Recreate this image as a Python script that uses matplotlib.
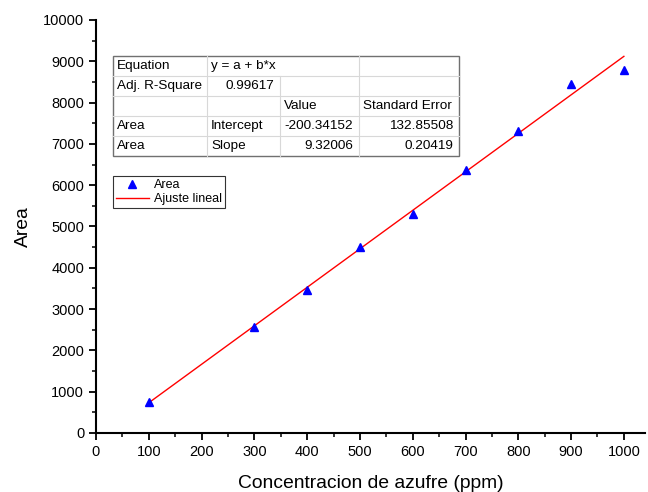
import matplotlib
matplotlib.use('Agg')
import matplotlib.pyplot as plt
from matplotlib.ticker import MultipleLocator
import numpy as np

plt.rcParams['font.family'] = ['Liberation Sans', 'DejaVu Sans']

# data
conc = [100, 300, 400, 500, 600, 700, 800, 900, 1000]
area = [750, 2566, 3462, 4503, 5300, 6368, 7312, 8460, 8790]

# fit parameters as printed in the table
intercept = -200.34152
slope = 9.32006
fit_x = np.array([100, 1000])
fit_y = intercept + slope * fit_x

table_rows = [
    ['Equation', 'y = a + b*x', '', ''],
    ['Adj. R-Square', '0.99617', '', ''],
    ['', '', 'Value', 'Standard Error'],
    ['Area', 'Intercept', '-200.34152', '132.85508'],
    ['Area', 'Slope', '9.32006', '0.20419'],
]

W, H = 648, 492
fig = plt.figure(figsize=(W / 100, H / 100), dpi=100)
ax = fig.add_axes([96 / W, 1 - 433 / H, (645 - 96) / W, (433 - 20) / H])

ax.plot(fit_x, fit_y, c='red', lw=1, label='Ajuste lineal', zorder=2)
ax.plot(conc, area, ls='none', marker='^', ms=5.5, c='blue', label='Area', zorder=3)

ax.set_xlim(0, 1040)
ax.set_ylim(0, 10000)
ax.xaxis.set_major_locator(MultipleLocator(100))
ax.xaxis.set_minor_locator(MultipleLocator(50))
ax.yaxis.set_major_locator(MultipleLocator(1000))
ax.yaxis.set_minor_locator(MultipleLocator(500))
ax.spines['top'].set_visible(False)
ax.spines['right'].set_visible(False)
for s in ['left', 'bottom']:
    ax.spines[s].set_linewidth(1.5)
ax.tick_params(which='major', direction='out', length=5, width=1.3, labelsize=10.5)
ax.tick_params(which='minor', direction='out', length=3, width=1.1)
ax.set_xlabel('Concentracion de azufre (ppm)', fontsize=13.9, labelpad=12)
ax.set_ylabel('Area', fontsize=13.9, labelpad=8)

h, l = ax.get_legend_handles_labels()
leg = ax.legend(h[::-1], l[::-1], loc='upper left', bbox_to_anchor=(0.031, 0.622),
                borderaxespad=0, fontsize=9, fancybox=False, framealpha=1,
                edgecolor='#333333', handlelength=2.6, handletextpad=0.4,
                borderpad=0.25, labelspacing=0.15)
leg.get_frame().set_linewidth(0.8)

# fit table drawn in pixel coords on an overlay
ov = fig.add_axes([0, 0, 1, 1])
ov.set_xlim(0, W)
ov.set_ylim(H, 0)
ov.axis('off')
cols = [113, 207, 280, 359, 459]
rows = [56, 76, 96, 116, 136, 156]
ov.add_patch(plt.Rectangle((cols[0], rows[0]), cols[-1] - cols[0], rows[-1] - rows[0],
                           facecolor='white', edgecolor='#707070', lw=1, zorder=1))
for y in rows[1:-1]:
    ov.plot([cols[0], cols[-1]], [y, y], c='#d8d8d8', lw=0.8, zorder=2)
for x in [cols[1], cols[3]]:
    ov.plot([x, x], [rows[0], rows[-1]], c='#d8d8d8', lw=0.8, zorder=2)
ov.plot([cols[2], cols[2]], [rows[1], rows[-1]], c='#d8d8d8', lw=0.8, zorder=2)

align = [
    ['left', 'left', 'left', 'left'],
    ['left', 'right', 'left', 'left'],
    ['left', 'left', 'left', 'left'],
    ['left', 'left', 'right', 'right'],
    ['left', 'left', 'right', 'right'],
]
for i, row in enumerate(table_rows):
    yc = (rows[i] + rows[i + 1]) / 2
    for j, txt in enumerate(row):
        if not txt:
            continue
        if align[i][j] == 'left':
            x = cols[j] + 4
        else:
            x = cols[j + 1] - 6
        ov.text(x, yc, txt, ha=align[i][j], va='center', fontsize=9.7, zorder=3)

plt.savefig('out.png', dpi=100)
